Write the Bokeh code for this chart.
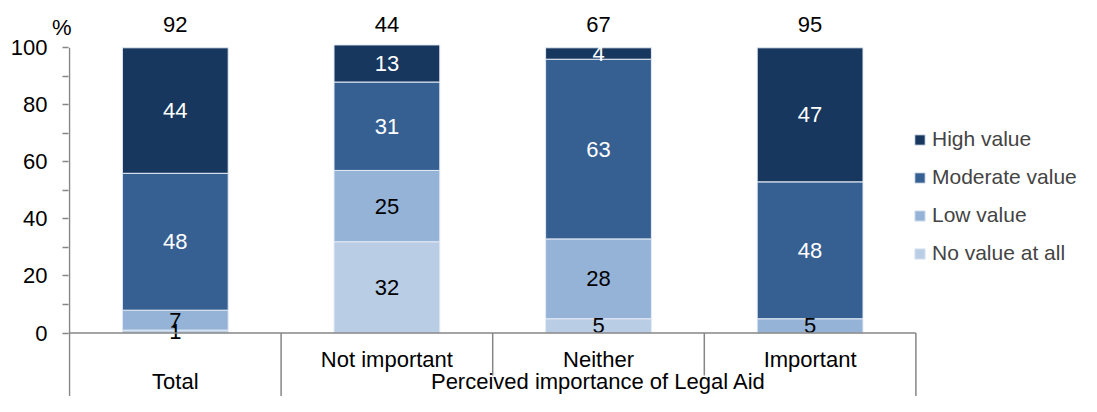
from bokeh.plotting import figure
from bokeh.models import ColumnDataSource, Range1d, FixedTicker, Legend, LegendItem, LinearAxis
from bokeh.core.properties import value
from bokeh.embed import file_html
from bokeh.resources import INLINE

# ---- data ----
categories = ["Total", "Not important", "Neither", "Important"]
sub_labels = ["", "Not important", "Neither", "Important"]
group_labels = ["Total", "Perceived importance of Legal Aid"]
group_starts = [0, 1]
group_ends = [1, 4]
series = ["No value at all", "Low value", "Moderate value", "High value"]
no_value = [1, 32, 5, 0]
low_value = [7, 25, 28, 5]
moderate_value = [48, 31, 63, 48]
high_value = [44, 13, 4, 47]
n_labels = ["92", "44", "67", "95"]
y_ticks = [0, 20, 40, 60, 80, 100]
y_minor = [10, 30, 50, 70, 90]
unit_label = "%"

colors = ["#B9CDE5", "#95B3D7", "#376092", "#17375E"]
label_colors = ["black", "black", "white", "white"]
FONT = "Liberation Sans"
GRAY = "#868686"

W, H = 1081, 396
left_border = 68
px_per_cat = 211.6
px_per_unit = 2.852
zero_px = 332.5  # canvas px of y=0

x_start = -1.0 / px_per_cat
x_end = x_start + (W - left_border) / px_per_cat
y_end = zero_px / px_per_unit
y_start = y_end - H / px_per_unit

p = figure(width=W, height=H, output_backend="svg", toolbar_location=None,
           x_range=Range1d(x_start, x_end), y_range=Range1d(y_start, y_end),
           min_border=0, min_border_left=left_border)
p.outline_line_color = None
p.xgrid.visible = False
p.ygrid.visible = False
p.xaxis.visible = False

yax = p.yaxis[0]
yax.ticker = FixedTicker(ticks=y_ticks, minor_ticks=y_minor)
yax.axis_line_color = None
yax.major_tick_in = 0
yax.major_tick_out = 6
yax.minor_tick_in = 0
yax.minor_tick_out = 6
yax.major_tick_line_color = GRAY
yax.minor_tick_line_color = GRAY
yax.major_tick_line_width = 1.5
yax.minor_tick_line_width = 1.5
yax.major_label_text_font = FONT
yax.major_label_text_font_size = "22px"
yax.major_label_text_color = "black"
yax.major_label_standoff = 15

# unit label "%" as a second, label-only axis
pct_axis = LinearAxis(ticker=FixedTicker(ticks=[107]), major_label_overrides={107: unit_label},
                      axis_line_color=None, major_tick_line_color=None, minor_tick_line_color=None,
                      major_tick_in=0, major_tick_out=0, minor_tick_in=0, minor_tick_out=0,
                      major_label_standoff=-64, major_label_text_font=FONT,
                      major_label_text_font_size="22px", major_label_text_color="black")
p.add_layout(pct_axis, "left")

xs = [i + 0.5 for i in range(len(categories))]
data = dict(x=xs, cat=categories)
vals = [no_value, low_value, moderate_value, high_value]
for s, v in zip(series, vals):
    data[s] = v
src = ColumnDataSource(data)

renderers = p.vbar_stack(series, x="x", width=0.5, source=src, color=colors,
                         line_color="#e4ebf5", line_width=1)

# segment labels
lx, ly, lt, lc = [], [], [], []
for k, v in enumerate(vals):
    for i, val in enumerate(v):
        base = sum(vals[j][i] for j in range(k))
        if val > 0:
            lx.append(xs[i])
            ly.append(base + val / 2.0)
            lt.append(str(val))
            lc.append(label_colors[k])
p.text(x=lx, y=ly, text=lt, text_color=lc, text_align="center", text_baseline="middle",
       text_font=value(FONT), text_font_size="22px")

# n labels on top
p.text(x=xs, y=[100] * len(xs), text=n_labels, y_offset=-23, text_align="center",
       text_baseline="middle", text_font=value(FONT), text_font_size="22px", text_color="black")

# axis lines
p.segment(x0=[x_start, 0], y0=[0, 100], x1=[len(categories), 0], y1=[0, y_start],
          line_color=GRAY, line_width=1.5)
# group boundaries (full length) and sub boundaries (short)
gb = sorted(set(group_starts + group_ends) - {0})
p.segment(x0=gb, y0=[0] * len(gb), x1=gb, y1=[y_start] * len(gb), line_color=GRAY, line_width=1.5)
sb = [i for i in range(1, len(categories)) if i not in gb]
p.segment(x0=sb, y0=[0] * len(sb), x1=sb, y1=[-14.9] * len(sb), line_color=GRAY, line_width=1.5)

# category labels
sx = [xs[i] for i in range(len(categories)) if sub_labels[i]]
st = [s for s in sub_labels if s]
p.text(x=sx, y=[0] * len(sx), y_offset=26, text=st, text_align="center", text_baseline="middle",
       text_font=value(FONT), text_font_size="22px", text_color="black")
gx = [(a + b) / 2.0 for a, b in zip(group_starts, group_ends)]
p.text(x=gx, y=[y_start] * len(gx), y_offset=-15, text=group_labels, text_align="center",
       text_baseline="middle", text_font=value(FONT), text_font_size="22px", text_color="black")

items = [LegendItem(label=s, renderers=[r]) for s, r in zip(series, renderers)][::-1]
legend = Legend(items=items, location=(845, 131), padding=0, margin=0, spacing=14,
                glyph_width=13, glyph_height=13, label_standoff=6,
                label_text_font=FONT, label_text_font_size="21px",
                border_line_color=None, background_fill_alpha=0)
p.add_layout(legend)

open("out.html", "w").write(file_html(p, INLINE))
